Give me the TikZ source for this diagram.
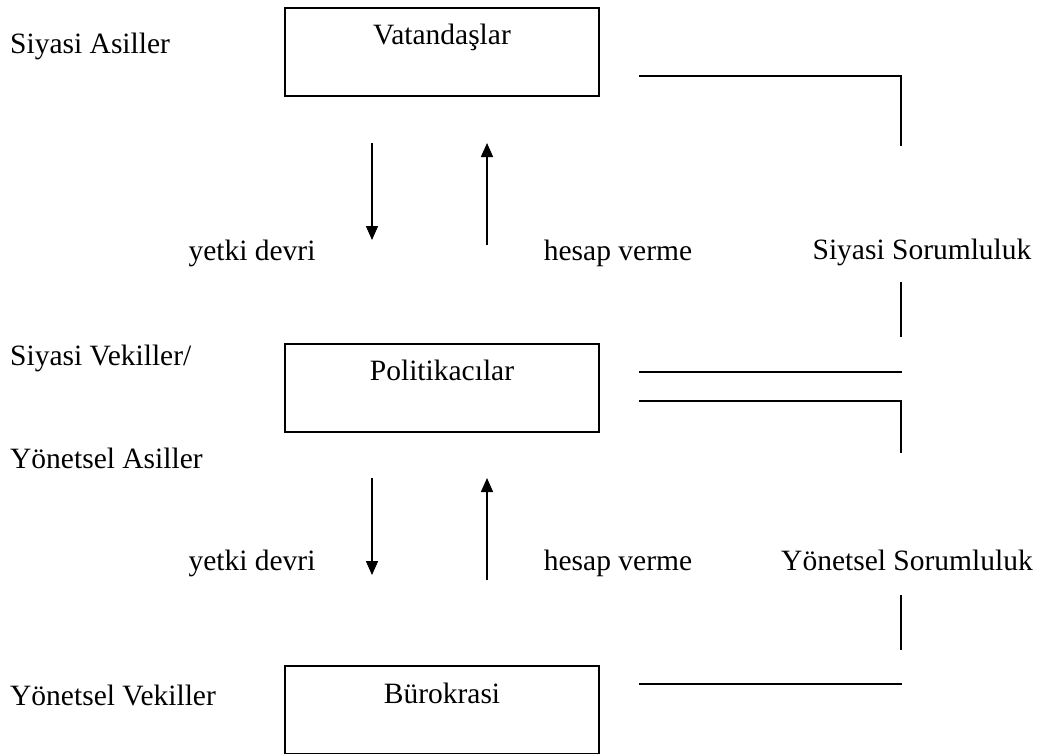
\documentclass[tikz,border=0pt]{standalone}
\usepackage{fontspec}
\setmainfont{Liberation Serif}
\usetikzlibrary{arrows.meta}
\begin{document}
\begin{tikzpicture}[x=1pt,y=-1pt,
  every node/.style={font=\fontsize{29.5}{35}\selectfont},
  box/.style={draw,line width=1.5pt,minimum width=314pt,inner ysep=0pt,text height=37pt,text depth=51pt,anchor=north},
  lbl/.style={anchor=base west,inner sep=0pt},
  clbl/.style={anchor=base,inner sep=0pt},
  conn/.style={line width=1.5pt},
  arr/.style={line width=1.5pt,-{Triangle[width=12pt,length=14pt]}}]
\useasboundingbox (0,0) rectangle (1047,753);
% boxes
\node[box] (vat) at (442,7) {Vatandaşlar};
\node[box] (pol) at (442,343) {Politikacılar};
\node[box,text height=38pt,text depth=50pt] (bur) at (442,665) {Bürokrasi};
% left labels
\node[lbl] (sa) at (10,53) {Siyasi Asiller};
\node[lbl] (sv) at (10,365) {Siyasi Vekiller/};
\node[lbl] (ya) at (10,468) {Yönetsel Asiller};
\node[lbl] (yv) at (10,705) {Yönetsel Vekiller};
% middle labels
\node[clbl] (yd1) at (252,260) {yetki devri};
\node[clbl] (hv1) at (618,260) {hesap verme};
\node[clbl] (ss) at (922,259) {Siyasi Sorumluluk};
\node[clbl] (yd2) at (252,570) {yetki devri};
\node[clbl] (hv2) at (618,570) {hesap verme};
\node[clbl] (ys) at (907,570) {Yönetsel Sorumluluk};
% arrows
\coordinate (d1s) at (372,143); \coordinate (d1e) at (372,240);
\coordinate (u1s) at (487,245); \coordinate (u1e) at (487,143);
\coordinate (d2s) at (372,478); \coordinate (d2e) at (372,575);
\coordinate (u2s) at (487,580); \coordinate (u2e) at (487,478);
\draw[arr] (d1s) -- (d1e);
\draw[arr] (u1s) -- (u1e);
\draw[arr] (d2s) -- (d2e);
\draw[arr] (u2s) -- (u2e);
% right connectors
\coordinate (a1) at (639,76); \coordinate (a2) at (901,76); \coordinate (a3) at (901,146);
\draw[conn] (a1) -- (a2) -- (a3);
\coordinate (b1) at (901,282); \coordinate (b2) at (901,337);
\draw[conn] (b1) -- (b2);
\coordinate (c1) at (639,372); \coordinate (c2) at (902,372);
\draw[conn] (c1) -- (c2);
\coordinate (e1) at (639,401); \coordinate (e2) at (901,401); \coordinate (e3) at (901,453);
\draw[conn] (e1) -- (e2) -- (e3);
\coordinate (f1) at (901,595); \coordinate (f2) at (901,650);
\draw[conn] (f1) -- (f2);
\coordinate (g1) at (639,684); \coordinate (g2) at (902,684);
\draw[conn] (g1) -- (g2);
\end{tikzpicture}
\end{document}
